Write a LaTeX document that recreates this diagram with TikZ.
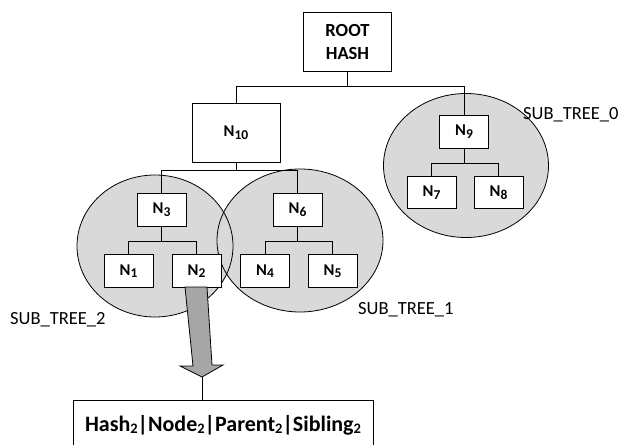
\documentclass[tikz,border=0pt]{standalone}
\usepackage{fontspec}
\setmainfont{Carlito}
\definecolor{groupfill}{HTML}{D9D9D9}
\definecolor{arrowfill}{HTML}{A6A6A6}
% lowered index for node names and for the record line
\newcommand{\nidx}[1]{\raisebox{-2.5pt}{\fontsize{13.5}{15}\selectfont #1}}
\newcommand{\ridx}[1]{\raisebox{-2.5pt}{\fontsize{14.5}{16}\selectfont #1}}
\tikzset{
  hashbox/.style={draw, fill=white, line width=0.8pt, inner sep=0pt,
    minimum width=49pt, minimum height=33pt,
    font=\fontsize{16.5}{18}\selectfont\bfseries},
  bigbox/.style={hashbox, minimum width=88pt, minimum height=59pt,
    font=\fontsize{18.5}{23}\selectfont\bfseries, align=center},
  link/.style={line width=0.8pt},
  group/.style={fill=groupfill},
  groupline/.style={line width=0.8pt},
  tag/.style={anchor=base west, inner sep=0pt, font=\fontsize{18.5}{22}\selectfont}
}
\begin{document}
\begin{tikzpicture}[x=1pt,y=-1pt]
\useasboundingbox (0,0) rectangle (625,445);
\clip (0,0) rectangle (625,445);

% subtree groups: fills first, then outlines so both overlapping rims show
\fill[group] (155,246) ellipse [x radius=78pt, y radius=71pt];
\fill[group] (300,240.5) ellipse [x radius=83pt, y radius=71.5pt];
\fill[group] (466,165.5) ellipse [x radius=82.5pt, y radius=72pt];
\draw[groupline] (155,246) ellipse [x radius=78pt, y radius=71pt];
\draw[groupline] (300,240.5) ellipse [x radius=83pt, y radius=71.5pt];
\draw[groupline] (466,165.5) ellipse [x radius=82.5pt, y radius=72pt];

% tree nodes
\node[bigbox] (root) at (347.5,41.5) {ROOT\\HASH};
\node[bigbox, font=\fontsize{16.5}{18}\selectfont\bfseries] (n10) at (236,132.5) {N\nidx{10}};
\node[hashbox] (n3) at (161.5,209.5) {N\nidx{3}};
\node[hashbox] (n6) at (297.5,209.5) {N\nidx{6}};
\node[hashbox] (n1) at (128.5,271) {N\nidx{1}};
\node[hashbox] (n2) at (196.5,271) {N\nidx{2}};
\node[hashbox] (n4) at (265,271) {N\nidx{4}};
\node[hashbox] (n5) at (332.5,271) {N\nidx{5}};
\node[hashbox] (n9) at (464,131.5) {N\nidx{9}};
\node[hashbox, minimum height=32pt] (n7) at (431.5,192.5) {N\nidx{7}};
\node[hashbox, minimum height=32pt] (n8) at (498.5,192.5) {N\nidx{8}};

% record box for N2
\node[draw, fill=white, line width=0.8pt, minimum width=300pt, minimum height=50pt,
  inner sep=0pt, font=\fontsize{22}{26}\selectfont\bfseries] (rec) at (223,425)
  {Hash\ridx{2}|Node\ridx{2}|Parent\ridx{2}|Sibling\ridx{2}};

% bus junctions
\coordinate (b0) at (347.5,86);
\coordinate (b10) at (236,170);
\coordinate (b3) at (161.5,241);
\coordinate (b6) at (297.5,241);
\coordinate (b9) at (464,163);

\draw[link] (root.south) -- (b0);
\draw[link] (b0) -| (n10.north);
\draw[link] (b0) -| (n9.north);
\draw[link] (n10.south) -- (b10);
\draw[link] (b10) -| (n3.north);
\draw[link] (b10) -| (n6.north);
\draw[link] (n3.south) -- (b3);
\draw[link] (b3) -| (n1.north);
\draw[link] (b3) -| (n2.north);
\draw[link] (n6.south) -- (b6);
\draw[link] (b6) -| (n4.north);
\draw[link] (b6) -| (n5.north);
\draw[link] (n9.south) -- (b9);
\draw[link] (b9) -| (n7.north);
\draw[link] (b9) -| (n8.north);

% block arrow from N2 down to its record
\coordinate (tip) at (202,377);
\draw[fill=arrowfill, line width=0.8pt, line join=miter]
  (185,287) -- (207,287) -- (212,365) -- (223,365) -- (tip)
  -- (180,366) -- (193,366) -- cycle;
\draw[link] (tip) -- (tip |- rec.north);

% subtree labels
\node[tag] (t0) at (523,119) {SUB\_TREE\_0};
\node[tag] (t1) at (358,314) {SUB\_TREE\_1};
\node[tag] (t2) at (10,324) {SUB\_TREE\_2};
\end{tikzpicture}
\end{document}
